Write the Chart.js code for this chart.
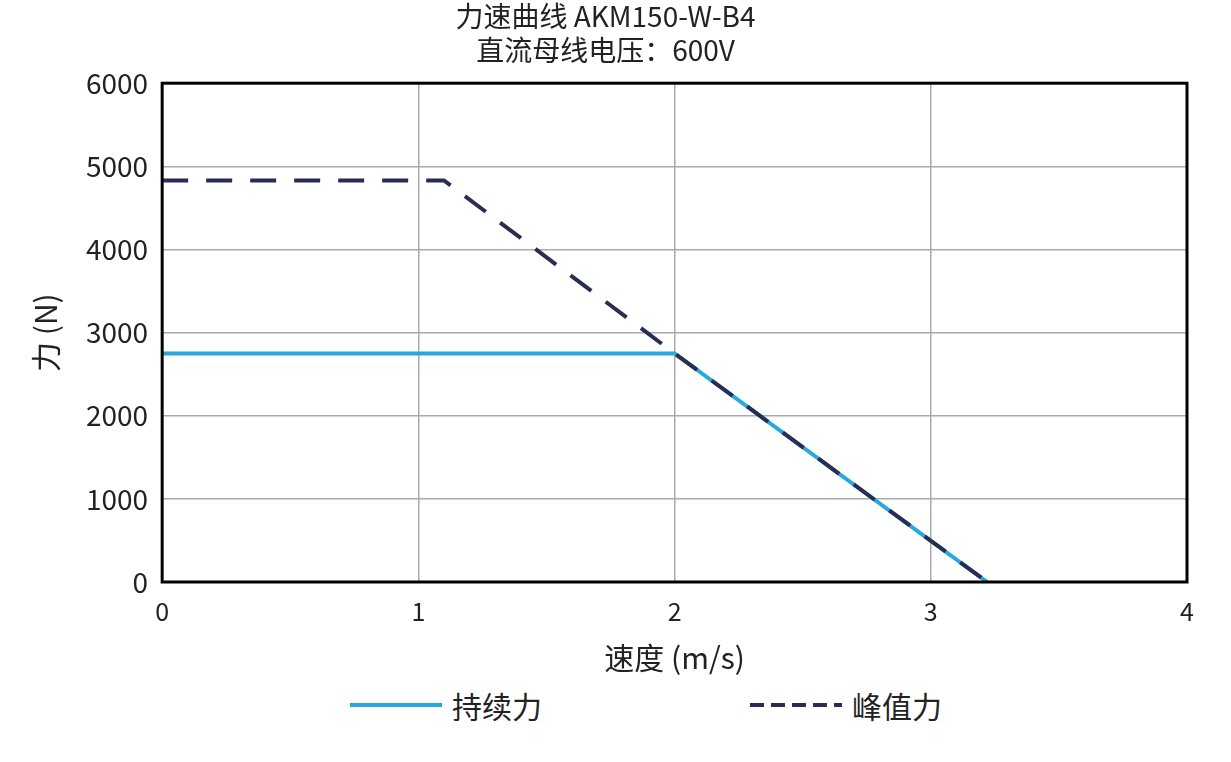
<!DOCTYPE html>
<html><head><meta charset="utf-8">
<script src="https://cdn.jsdelivr.net/npm/chart.js@4"></script>
<style>html,body{margin:0;background:#fff}#w{width:1231px;height:680px}
#lg{position:absolute;top:680px;left:0;width:1231px;height:50px;font-family:'Noto Sans CJK SC',sans-serif;font-size:30px;color:#222}
.it{position:absolute;top:0;display:flex;align-items:center;height:50px}
svg{margin-right:10px}</style>
</head><body><div id="w"><canvas id="c"></canvas></div>
<div id="lg"><div class="it" style="left:350px"><svg width="92" height="6"><line x1="0" y1="3" x2="92" y2="3" stroke="#29a8de" stroke-width="4"/></svg>持续力</div>
<div class="it" style="left:750px"><svg width="92" height="6"><line x1="0" y1="3" x2="92" y2="3" stroke="#2a2d52" stroke-width="4" stroke-dasharray="14,7"/></svg>峰值力</div></div>
<script>
const contSpeed=[0,2,3.22];
const contForce=[2750,2750,0];
const peakSpeed=[0,1.1,2,3.22];
const peakForce=[4830,4830,2750,0];
const xTicks=[0,1,2,3,4];
const yTicks=[0,1000,2000,3000,4000,5000,6000];
const F="'Noto Sans CJK SC','Noto Sans',sans-serif";
const pts=(xs,ys)=>xs.map((x,i)=>({x,y:ys[i]}));
const border={id:'b',afterDraw(ch){const a=ch.chartArea,c=ch.ctx;c.save();c.strokeStyle='#000';c.lineWidth=3;c.strokeRect(a.left,a.top,a.right-a.left,a.bottom-a.top);c.restore();}};
new Chart(document.getElementById('c'),{type:'line',
data:{datasets:[
{label:'峰值力',data:pts(peakSpeed,peakForce),borderColor:'#2a2d52',borderWidth:4,borderDash:[26,18],pointRadius:0,order:0},
{label:'持续力',data:pts(contSpeed,contForce),borderColor:'#29a8de',borderWidth:4,pointRadius:0,order:1}
]},
options:{responsive:true,maintainAspectRatio:false,animation:false,
layout:{padding:{left:24,right:44,top:0,bottom:4}},
plugins:{title:{display:true,text:['力速曲线 AKM150-W-B4','直流母线电压：600V'],font:{family:F,size:28,weight:'normal'},color:'#222',padding:{top:0,bottom:16},lineHeight:1.75},
legend:{display:false},tooltip:{enabled:false}},
scales:{x:{type:'linear',min:0,max:4,afterBuildTicks:s=>{s.ticks=xTicks.map(v=>({value:v}))},
ticks:{font:{family:F,size:25},color:'#222',padding:14},grid:{color:'#aaa',lineWidth:1.5,drawTicks:false},border:{display:false},
title:{display:true,text:'速度 (m/s)',font:{family:F,size:30},color:'#222',padding:{top:0,bottom:0}}},
y:{min:0,max:6000,afterBuildTicks:s=>{s.ticks=yTicks.map(v=>({value:v}))},
ticks:{font:{family:F,size:28},color:'#222',padding:14,callback:v=>String(v)},grid:{color:'#aaa',lineWidth:1.5,drawTicks:false},border:{display:false},
title:{display:true,text:'力 (N)',font:{family:F,size:30},color:'#222',padding:{bottom:8}}}}},
plugins:[border]});
</script></body></html>
